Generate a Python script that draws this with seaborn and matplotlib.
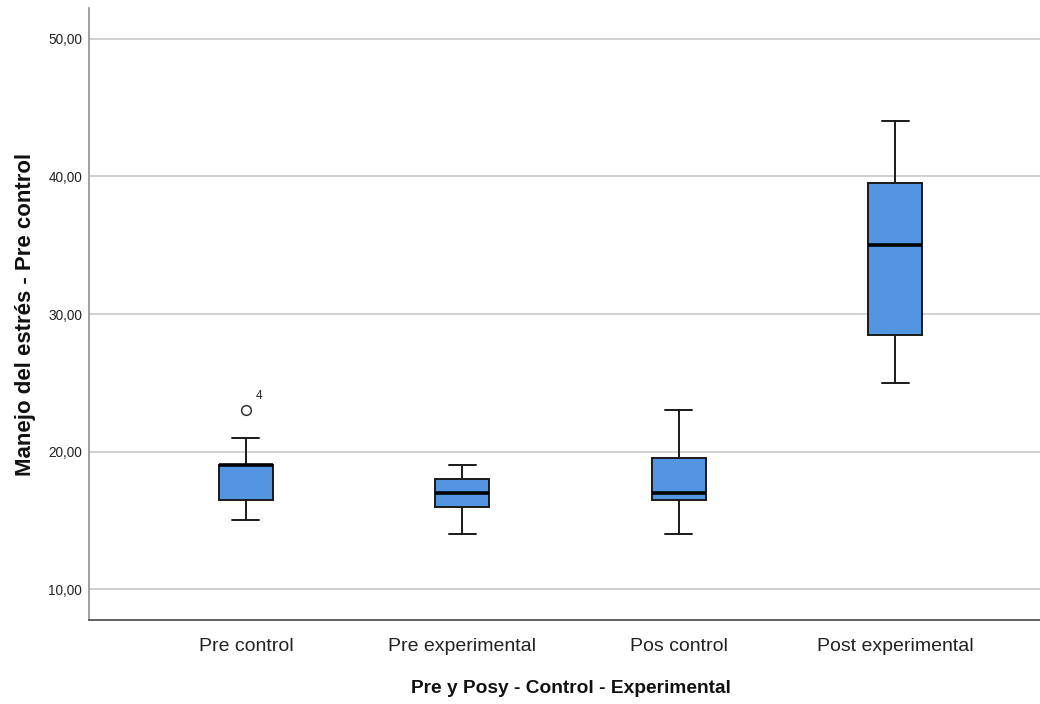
import matplotlib
matplotlib.use("Agg")
import matplotlib.pyplot as plt
from matplotlib import font_manager
import seaborn as sns
import pandas as pd

# Values (each list reproduces box/whisker/outlier positions)
categories = ["Pre control", "Pre experimental", "Pos control", "Post experimental"]
pre_control = [15, 16, 16.5, 18, 19, 19, 19, 21, 23]
pre_experimental = [14, 16, 17, 18, 19]
pos_control = [14, 16.5, 17, 19.5, 23]
post_experimental = [25, 28.5, 35, 39.5, 44]
outlier_label = "4"
outlier_value = 23
y_ticks = [10, 20, 30, 40, 50]
y_tick_labels = ["10,00", "20,00", "30,00", "40,00", "50,00"]

rows = []
for cat, vals in zip(categories, [pre_control, pre_experimental, pos_control, post_experimental]):
    rows += [{"grupo": cat, "valor": v} for v in vals]
df = pd.DataFrame(rows)

sns.set_theme(style="white")
plt.rcParams["font.family"] = ["Liberation Sans", "DejaVu Sans"]

fig = plt.figure(figsize=(10.4, 7.04), dpi=100)
ax = fig.add_axes([89 / 1040, 84 / 704, (1052 - 89) / 1040, (620 - 8) / 704])

sns.boxplot(
    data=df, x="grupo", y="valor", order=categories, ax=ax,
    color="#5495E2", saturation=1, width=0.25,
    linecolor="#1a1a1a", linewidth=1.4,
    medianprops=dict(color="black", linewidth=2.6),
    flierprops=dict(marker="o", markerfacecolor="white", markeredgecolor="#333333",
                    markersize=7, markeredgewidth=1.1),
)

ax.annotate(outlier_label, xy=(0, outlier_value), xytext=(7, 6), textcoords="offset points",
            fontsize=8.5, color="#222222", ha="left", va="bottom")

ax.set_xlim(-0.725, 3.725)
ax.set_ylim(7.75, 52.25)
ax.set_yticks(y_ticks)
ax.set_yticklabels(y_tick_labels, fontsize=9.8, color="#222222")
ax.set_xticks(range(len(categories)))
ax.set_xticklabels(categories, fontsize=14, color="#222222")
ax.tick_params(axis="both", length=0)
ax.tick_params(axis="x", pad=13)
ax.tick_params(axis="y", pad=5)

ax.yaxis.grid(True, color="#d0d0d0", linewidth=1.4)
ax.set_axisbelow(True)
for s in ["top", "right"]:
    ax.spines[s].set_visible(False)
ax.spines["left"].set_color("#999999")
ax.spines["left"].set_linewidth(1.3)
ax.spines["bottom"].set_color("#555555")
ax.spines["bottom"].set_linewidth(1.3)

ax.set_xlabel("Pre y Posy - Control - Experimental", fontsize=13.8, fontweight="bold",
              color="#111111", labelpad=18)
ax.set_ylabel("Manejo del estrés - Pre control", fontsize=16, fontweight="bold",
              color="#111111", labelpad=9)

fig.savefig("out.png", dpi=100)
